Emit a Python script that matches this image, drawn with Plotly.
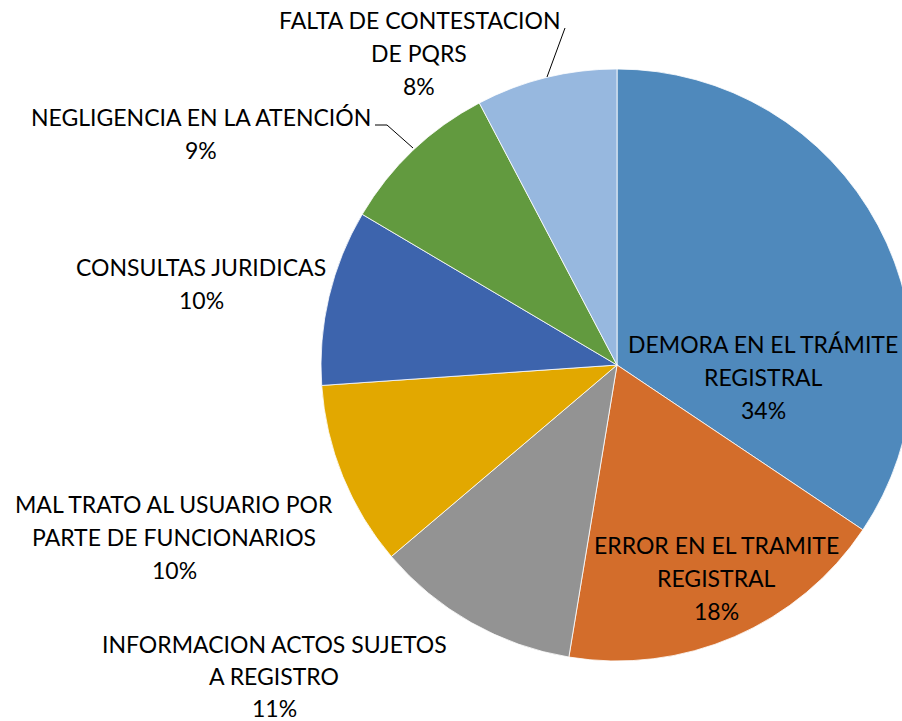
import plotly.graph_objects as go

# ---- data ----
categories = [
    "DEMORA EN EL TRÁMITE REGISTRAL",
    "ERROR EN EL TRAMITE REGISTRAL",
    "INFORMACION ACTOS SUJETOS A REGISTRO",
    "MAL TRATO AL USUARIO POR PARTE DE FUNCIONARIOS",
    "CONSULTAS JURIDICAS",
    "NEGLIGENCIA EN LA ATENCIÓN",
    "FALTA DE CONTESTACION DE PQRS",
]
values = [34.4, 18.2, 11.2, 10.1, 9.6, 8.8, 7.7]
label_lines = [
    ["DEMORA EN EL TRÁMITE", "REGISTRAL"],
    ["ERROR EN EL TRAMITE", "REGISTRAL"],
    ["INFORMACION ACTOS SUJETOS", "A REGISTRO"],
    ["MAL TRATO AL USUARIO POR", "PARTE DE FUNCIONARIOS"],
    ["CONSULTAS JURIDICAS"],
    ["NEGLIGENCIA EN LA ATENCIÓN"],
    ["FALTA DE CONTESTACION", "DE PQRS"],
]
colors = ["#4F89BC", "#D36D2B", "#939393", "#E2A800", "#3D64AD", "#629A3F", "#97B8DF"]

# The source pie runs past the right edge of the 902px view; the figure is drawn
# slightly wider and the page clips it at the window edge.
W, H = 920, 721
CX, CY, R = 617, 365, 296
# label anchor (center x, first-line center y, line step) in pixels
label_pos = [(763, 344, 33), (716, 545, 33), (274, 644, 32), (174, 504, 33),
             (201, 267, 33), (201, 117, 33), (419, 20, 33)]
FONT = dict(family="Lato", size=23, color="#000000")

def px(x):
    return x / W

def py(y):
    return 1 - y / H

fig = go.Figure(
    go.Pie(
        labels=categories,
        values=values,
        sort=False,
        direction="clockwise",
        rotation=0,
        marker=dict(colors=colors, line=dict(color="#FFFFFF", width=0.8)),
        textinfo="none",
        hoverinfo="label+percent",
        domain=dict(x=[px(CX - R), px(CX + R)], y=[py(CY + R), py(CY - R)]),
    )
)

total = sum(values)
annotations = []
for lines, v, (cx, cy, step) in zip(label_lines, values, label_pos):
    all_lines = lines + [f"{round(v / total * 100)}%"]
    for i, t in enumerate(all_lines):
        annotations.append(dict(
            x=px(cx), y=py(cy + i * step), xref="paper", yref="paper",
            text=t, showarrow=False, xanchor="center", yanchor="middle",
            font=FONT,
        ))

LEADER = dict(color="#000000", width=1)
shapes = [
    dict(type="line", xref="paper", yref="paper", x0=px(375), y0=py(125), x1=px(387), y1=py(125), line=LEADER),
    dict(type="line", xref="paper", yref="paper", x0=px(387), y0=py(125), x1=px(413), y1=py(148), line=LEADER),
    dict(type="line", xref="paper", yref="paper", x0=px(565), y0=py(28), x1=px(547), y1=py(77), line=LEADER),
]

fig.update_layout(
    width=W, height=H,
    margin=dict(l=0, r=0, t=0, b=0),
    paper_bgcolor="#FFFFFF",
    plot_bgcolor="#FFFFFF",
    showlegend=False,
    annotations=annotations,
    shapes=shapes,
)

fig.write_html(
    "out.html",
    config={"displayModeBar": False},
    post_script=(
        "document.body.style.margin='0';"
        "document.body.style.overflow='hidden';"
        "document.documentElement.style.overflow='hidden';"
    ),
)
